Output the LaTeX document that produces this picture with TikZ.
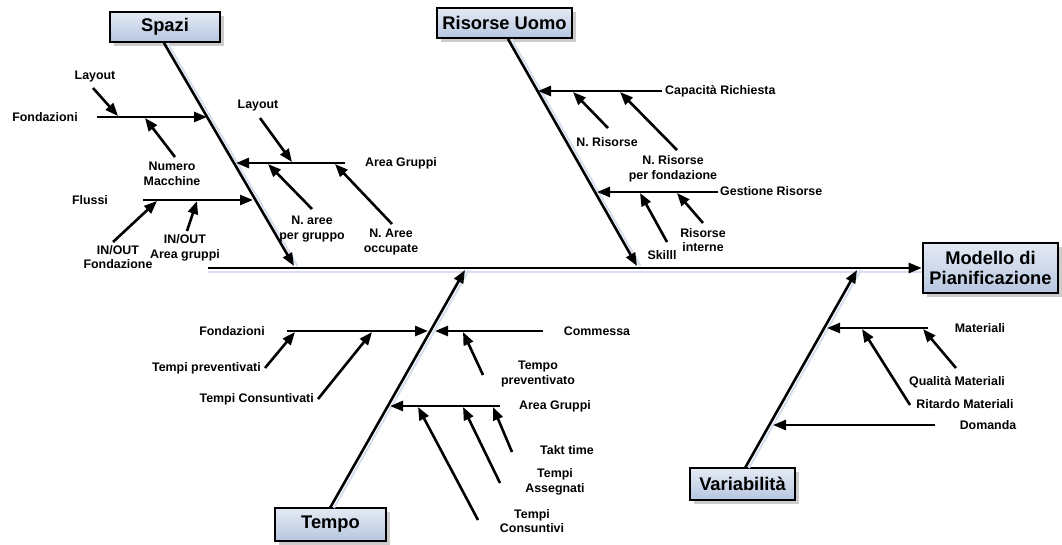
\documentclass[tikz,border=0pt]{standalone}
\usepackage{fontspec}
\setmainfont{Liberation Sans}
\usetikzlibrary{arrows.meta,shadows}
\definecolor{boxtop}{RGB}{228,234,244}
\definecolor{boxbot}{RGB}{182,198,224}
\definecolor{shade}{RGB}{214,223,238}
\tikzset{
  bone/.style={line width=2.6pt,-{Triangle[length=13pt,width=10pt]}},
  lineshadow/.style={line width=2pt,draw=shade},
  lab/.style={font=\bfseries\fontsize{12.4}{14.5}\selectfont,align=center,inner sep=1pt},
  titlebox/.style={draw,line width=2.6pt,top color=boxtop,bottom color=boxbot,
    font=\bfseries\fontsize{18.3}{20.5}\selectfont,align=center,inner sep=2pt,
    drop shadow={shadow xshift=4pt,shadow yshift=-4pt,fill=black!25,opacity=0.8}}
}
\begin{document}
\begin{tikzpicture}[x=1pt,y=-1pt]
\useasboundingbox (0,0) rectangle (1062,544);
% ---- category boxes
\node[titlebox,minimum width=110pt,minimum height=30pt] (spazi) at (165,27) {Spazi};
\node[titlebox,minimum width=135pt,minimum height=30pt] (risorse) at (504.5,23) {Risorse Uomo};
\node[titlebox,minimum width=135pt,minimum height=50pt,inner sep=1pt] (modello) at (990.5,268) {Modello di\\Pianificazione};
\node[titlebox,minimum width=111pt,minimum height=33pt] (tempo) at (330.5,524.5) {Tempo};
\node[titlebox,minimum width=105pt,minimum height=32pt] (variab) at (742.5,484) {Variabilità};
% ---- spine coordinates
\coordinate (mstart) at (208,268);
\coordinate (sp0) at (164,43);  \coordinate (sp1) at (294,266);
\coordinate (ru0) at (508,39);  \coordinate (ru1) at (637,266);
\coordinate (te0) at (330,508); \coordinate (te1) at (465,270);
\coordinate (va0) at (745,468); \coordinate (va1) at (857,270);
% shadows of main lines
\draw[lineshadow] ([shift={(0,3.5)}]mstart) -- ([shift={(0,3.5)}]modello.west);
\draw[lineshadow] ([shift={(3.5,0)}]sp0) -- ([shift={(3.5,0)}]sp1);
\draw[lineshadow] ([shift={(3.5,0)}]ru0) -- ([shift={(3.5,0)}]ru1);
\draw[lineshadow] ([shift={(4,0)}]te0) -- ([shift={(4,0)}]te1);
\draw[lineshadow] ([shift={(4,0)}]va0) -- ([shift={(4,0)}]va1);
% main spine and category bones
\draw[bone] (mstart) -- (modello.west);
\draw[bone] (sp0) -- (sp1);
\draw[bone] (ru0) -- (ru1);
\draw[bone] (te0) -- (te1);
\draw[bone] (va0) -- (va1);

% ================= Spazi
\node[lab] (sFond) at (45,117) {Fondazioni};
\node[lab] (sLay1) at (95,77) {Layout};
\node[lab] (sNum) at (172,174) {Numero\\Macchine};
\node[lab] (sFlu) at (90,200) {Flussi};
\node[lab] (sIOF) at (118,257) {IN/OUT\\Fondazione};
\node[lab] (sIOA) at (185,248) {IN/OUT\\Area gruppi};
\node[lab] (sLay2) at (258,106) {Layout};
\node[lab] (sArea) at (401,163) {Area Gruppi};
\node[lab] (sNap) at (312,229) {N. aree\\per gruppo};
\node[lab] (sNao) at (391,242) {N. Aree\\occupate};

\coordinate (a1) at (97,117);  \coordinate (a1t) at (207,117);
\coordinate (a2) at (93,88);   \coordinate (a2t) at (118,116);
\coordinate (a3) at (175,157); \coordinate (a3t) at (145,118);
\coordinate (a4) at (143,200); \coordinate (a4t) at (253,200);
\coordinate (a5) at (113,242); \coordinate (a5t) at (157,201);
\coordinate (a6) at (187,231); \coordinate (a6t) at (197,201);
\coordinate (a7) at (345,163); \coordinate (a7t) at (236,163);
\coordinate (a8) at (260,118); \coordinate (a8t) at (292,162);
\coordinate (a9) at (312,209); \coordinate (a9t) at (268,164);
\coordinate (a10) at (392,224); \coordinate (a10t) at (335,164);
\draw[bone] (a1) -- (a1t);
\draw[bone] (a2) -- (a2t);
\draw[bone] (a3) -- (a3t);
\draw[bone] (a4) -- (a4t);
\draw[bone] (a5) -- (a5t);
\draw[bone] (a6) -- (a6t);
\draw[bone] (a7) -- (a7t);
\draw[bone] (a8) -- (a8t);
\draw[bone] (a9) -- (a9t);
\draw[bone] (a10) -- (a10t);

% ================= Risorse Uomo
\node[lab,anchor=west] (rCap) at (664,91) {Capacità Richiesta};
\node[lab] (rNR) at (607,142) {N. Risorse};
\node[lab] (rNRf) at (673,169) {N. Risorse\\per fondazione};
\node[lab,anchor=west] (rGes) at (719,191) {Gestione Risorse};
\node[lab] (rRI) at (703,240) {Risorse\\interne};
\node[lab] (rSk) at (662,255) {Skilll};

\coordinate (b1) at (662,91);  \coordinate (b1t) at (538,91);
\coordinate (b2) at (608,128); \coordinate (b2t) at (573,92);
\coordinate (b3) at (677,150); \coordinate (b3t) at (620,92);
\coordinate (b4) at (718,192); \coordinate (b4t) at (597,192);
\coordinate (b5) at (667,242); \coordinate (b5t) at (640,193);
\coordinate (b6) at (703,223); \coordinate (b6t) at (677,193);
\draw[bone] (b1) -- (b1t);
\draw[bone] (b2) -- (b2t);
\draw[bone] (b3) -- (b3t);
\draw[bone] (b4) -- (b4t);
\draw[bone] (b5) -- (b5t);
\draw[bone] (b6) -- (b6t);

% ================= Tempo
\node[lab] (tFond) at (232,331) {Fondazioni};
\node[lab] (tCom) at (597,331) {Commessa};
\node[lab,anchor=east] (tTP) at (262,368) {Tempi preventivati};
\node[lab,anchor=east] (tTC) at (315,399) {Tempi Consuntivati};
\node[lab] (tTpv) at (538,374) {Tempo\\preventivato};
\node[lab] (tArea) at (555,406) {Area Gruppi};
\node[lab] (tTakt) at (567,450) {Takt time};
\node[lab] (tAss) at (555,482) {Tempi\\Assegnati};
\node[lab] (tCons) at (532,521) {Tempi\\Consuntivi};

\coordinate (c1) at (287,331); \coordinate (c1t) at (428,331);
\coordinate (c2) at (543,331); \coordinate (c2t) at (435,331);
\coordinate (c3) at (265,368); \coordinate (c3t) at (295,332);
\coordinate (c4) at (318,399); \coordinate (c4t) at (372,332);
\coordinate (c5) at (483,375); \coordinate (c5t) at (463,332);
\coordinate (c6) at (500,406); \coordinate (c6t) at (390,406);
\coordinate (c7) at (478,520); \coordinate (c7t) at (418,407);
\coordinate (c8) at (500,483); \coordinate (c8t) at (463,407);
\coordinate (c9) at (512,452); \coordinate (c9t) at (493,407);
\draw[bone] (c1) -- (c1t);
\draw[bone] (c2) -- (c2t);
\draw[bone] (c3) -- (c3t);
\draw[bone] (c4) -- (c4t);
\draw[bone] (c5) -- (c5t);
\draw[bone] (c6) -- (c6t);
\draw[bone] (c7) -- (c7t);
\draw[bone] (c8) -- (c8t);
\draw[bone] (c9) -- (c9t);

% ================= Variabilita
\node[lab] (vMat) at (980,328) {Materiali};
\node[lab] (vQual) at (957,382) {Qualità Materiali};
\node[lab] (vRit) at (965,404) {Ritardo Materiali};
\node[lab] (vDom) at (988,425) {Domanda};

\coordinate (d1) at (928,328); \coordinate (d1t) at (827,328);
\coordinate (d2) at (956,368); \coordinate (d2t) at (923,329);
\coordinate (d3) at (910,405); \coordinate (d3t) at (862,329);
\coordinate (d4) at (935,425); \coordinate (d4t) at (773,425);
\draw[bone] (d1) -- (d1t);
\draw[bone] (d2) -- (d2t);
\draw[bone] (d3) -- (d3t);
\draw[bone] (d4) -- (d4t);
\end{tikzpicture}
\end{document}
